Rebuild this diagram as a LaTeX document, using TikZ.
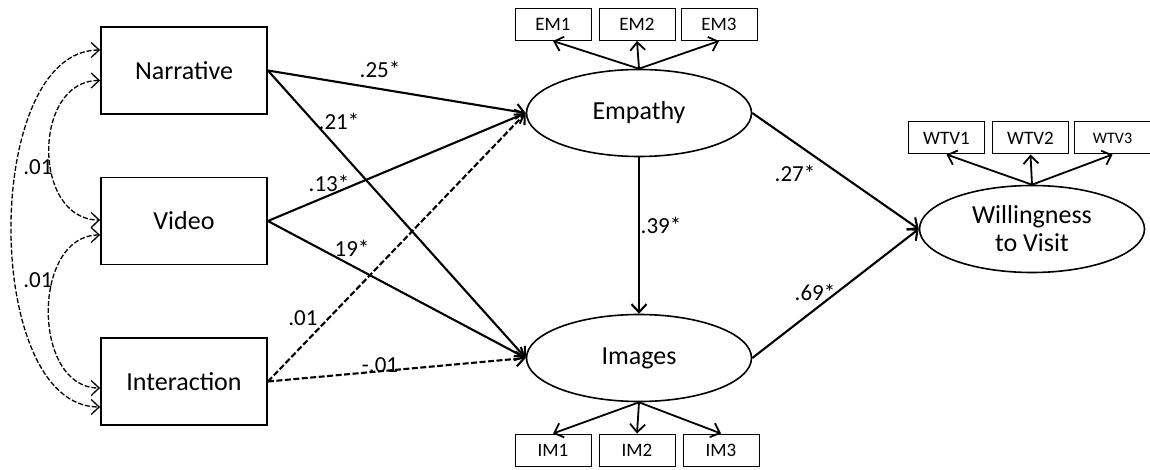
\documentclass[tikz,border=0pt]{standalone}
\usepackage{fontspec}
\setmainfont{Carlito}
\usepackage{tikz}
\usetikzlibrary{arrows.meta,positioning,shapes.geometric}

\begin{document}
\begin{tikzpicture}[
  x=1pt, y=-1pt,
  obs/.style={draw, line width=1.8pt, minimum width=166pt, minimum height=87pt, inner sep=0pt, font=\fontsize{26}{30}\selectfont},
  lat/.style={draw, ellipse, line width=1.6pt, minimum width=225pt, minimum height=87pt, inner sep=0pt, align=center, font=\fontsize{26}{28}\selectfont},
  ind/.style={draw, line width=1pt, minimum width=76pt, minimum height=32pt, inner sep=0pt, font=\fontsize{19}{22}\selectfont},
  coef/.style={font=\fontsize{23}{26}\selectfont},
  arr/.style={-{Straight Barb[length=8pt,width=15pt]}, line width=2.1pt},
  dsh/.style={dash pattern=on 6pt off 2.5pt},
  cov/.style={{Straight Barb[length=8pt,width=15pt]}-{Straight Barb[length=8pt,width=15pt]}, line width=1.3pt, dash pattern=on 5pt off 2pt},
  node distance=7pt
]
\useasboundingbox (0,0) rectangle (1150,470);

% observed predictors
\node[obs] (narr) at (184,70.5) {Narrative};
\node[obs] (video) at (184,221) {Video};
\node[obs] (inter) at (184,381.5) {Interaction};

% latent constructs
\node[lat] (emp) at (639,113) {Empathy};
\node[lat] (img) at (639,358) {Images};
\node[lat] (wtv) at (1032,229) {Willingness\\to Visit};

% indicators
\node[ind] (em2) at (637,24.5) {EM2};
\node[ind, left=of em2] (em1) {EM1};
\node[ind, right=5pt of em2] (em3) {EM3};
\node[ind] (im2) at (637,450) {IM2};
\node[ind, left=of im2] (im1) {IM1};
\node[ind, right=of im2] (im3) {IM3};
\node[ind] (wtv2) at (1030.5,138) {WTV2};
\node[ind, left=of wtv2] (wtv1) {WTV1};
\node[ind, right=5pt of wtv2] (wtv3) {\fontsize{16}{18}\selectfont WTV3};

\foreach \b in {em1,em2,em3} \draw[arr, line width=1.8pt] (emp.north) -- (\b.south);
\foreach \b in {im1,im2,im3} \draw[arr, line width=1.8pt] (img.south) -- (\b.north);
\foreach \b in {wtv1,wtv2,wtv3} \draw[arr, line width=1.8pt] (wtv.north) -- (\b.south);

% structural paths
\draw[arr] (narr.east) -- (emp.west);
\draw[arr] (narr.east) -- (img.west);
\draw[arr] (video.east) -- (emp.west);
\draw[arr] (video.east) -- (img.west);
\draw[arr, dsh] (inter.east) -- (emp.west);
\draw[arr, dsh] (inter.east) -- (img.west);
\draw[arr] (emp.south) -- (img.north);
\draw[arr] (emp.east) -- (wtv.west);
\draw[arr] (img.east) -- (wtv.west);

\node[coef] (c1) at (380,69) {.25*};
\node[coef] (c2) at (339,121) {.21*};
\node[coef] (c3) at (329,183) {.13*};
\node[coef] (c4) at (352,248) {19*};
\node[coef] (c5) at (303,318) {.01};
\node[coef] (c6) at (380,365) {-.01};
\node[coef] (c7) at (661,225) {.39*};
\node[coef] (c8) at (795,173) {.27*};
\node[coef] (c9) at (815,292) {.69*};

% covariances
\draw[cov] ([yshift=-10pt]narr.west) to[out=180, in=180, looseness=1.25] ([yshift=1pt]video.west);
\draw[cov] ([yshift=-14pt]video.west) to[out=180, in=180, looseness=1.15] ([yshift=-6.5pt]inter.west);
\draw[cov] ([yshift=20.5pt]narr.west) to[out=180, in=180, looseness=0.85] ([yshift=-25.5pt]inter.west);
\node[coef] (r1) at (38,167) {.01};
\node[coef] (r2) at (38,280) {.01};
\end{tikzpicture}
\end{document}
